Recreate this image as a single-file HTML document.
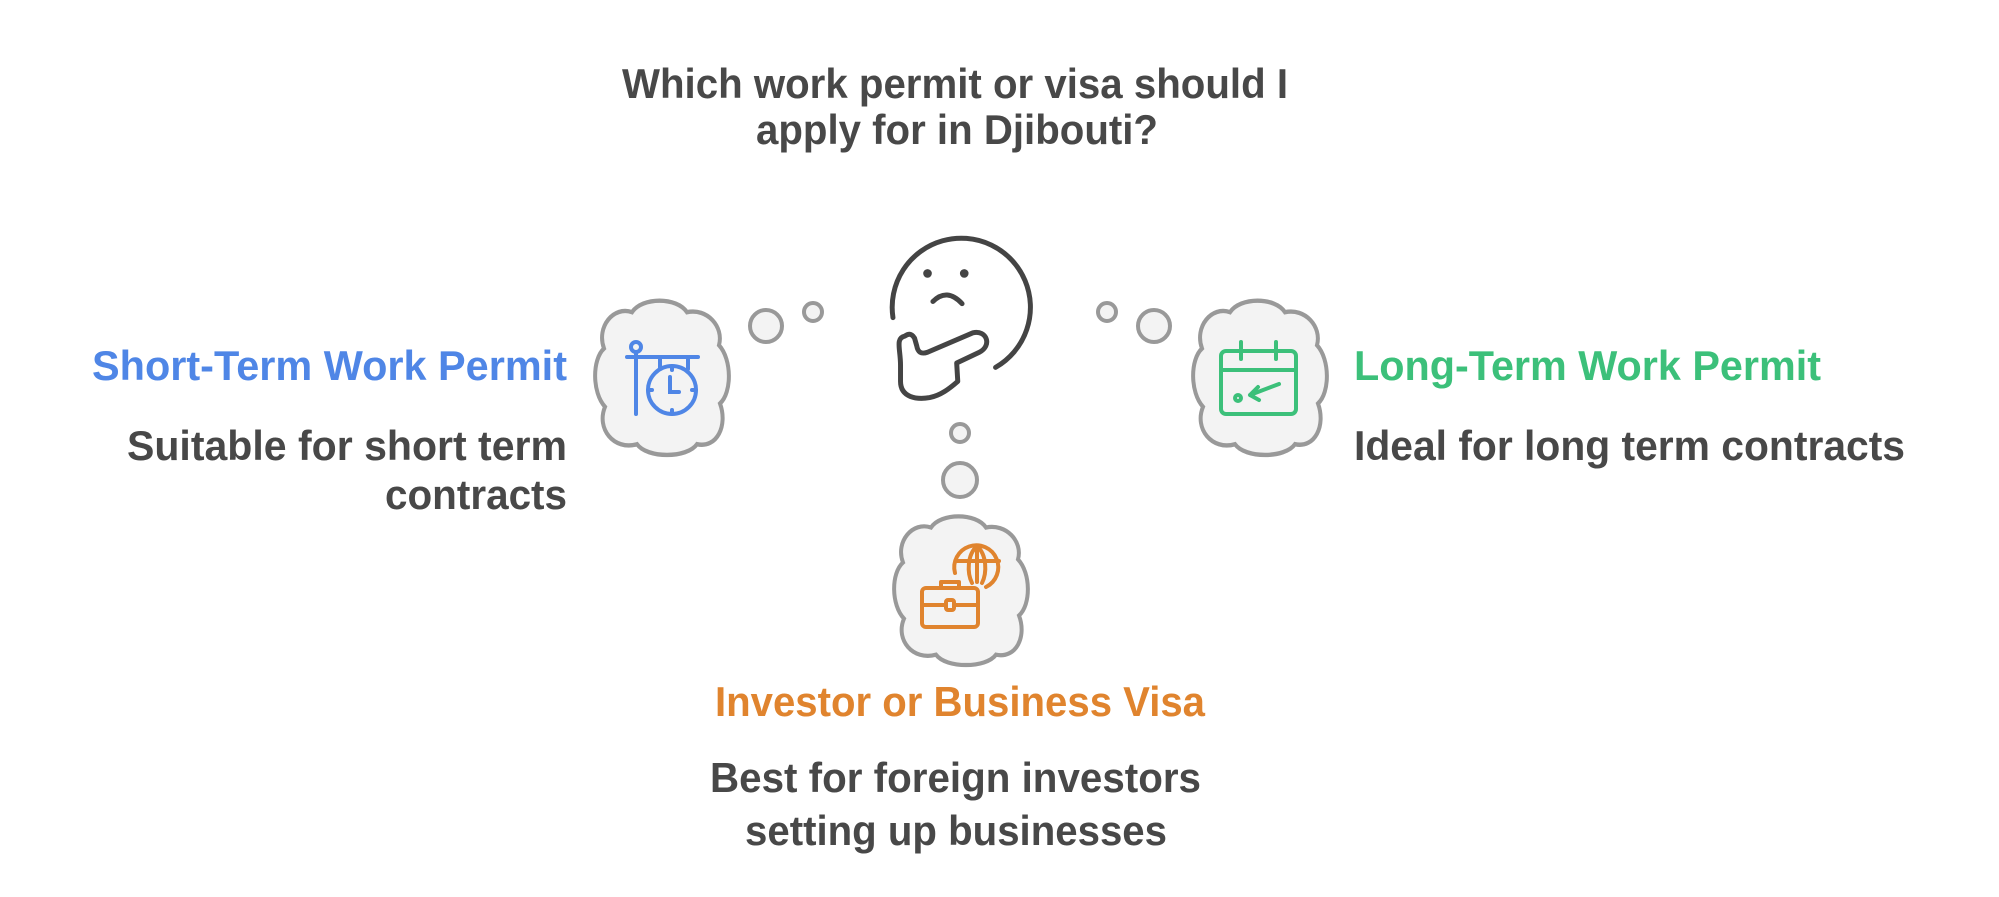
<!DOCTYPE html>
<html><head><meta charset="utf-8"><style>
html,body{margin:0;padding:0;background:#fff;width:1999px;height:897px;overflow:hidden}
svg{display:block}
text{font-family:"Liberation Sans",Arial,sans-serif;font-weight:bold;font-size:42px}
</style></head><body>
<svg width="1999" height="897" viewBox="0 0 1999 897" xmlns="http://www.w3.org/2000/svg">
<defs>
<path id="cloud" d="M-30,-58 C-20,-72 15,-72 25,-58 C45,-62 62,-45 57,-28 C70,-15 70,15 58,25 C66,45 55,66 35,62 C25,75 -15,75 -25,62 C-48,68 -66,48 -57,28 C-70,15 -70,-15 -58,-25 C-66,-45 -48,-64 -30,-58 Z" fill="#f3f3f3" stroke="#999" stroke-width="4"/>
</defs>
<g fill="#484848">
<text x="955" y="98" text-anchor="middle" textLength="666" lengthAdjust="spacingAndGlyphs">Which work permit or visa should I</text>
<text x="957" y="144" text-anchor="middle" textLength="402" lengthAdjust="spacingAndGlyphs">apply for in Djibouti?</text>
<text x="127" y="460" textLength="440" lengthAdjust="spacingAndGlyphs">Suitable for short term</text>
<text x="385" y="509" textLength="182" lengthAdjust="spacingAndGlyphs">contracts</text>
<text x="1354" y="460" textLength="551" lengthAdjust="spacingAndGlyphs">Ideal for long term contracts</text>
<text x="710" y="792" textLength="491" lengthAdjust="spacingAndGlyphs">Best for foreign investors</text>
<text x="745" y="845" textLength="422" lengthAdjust="spacingAndGlyphs">setting up businesses</text>
</g>
<text x="92" y="380" fill="#4f86e6" textLength="475" lengthAdjust="spacingAndGlyphs">Short-Term Work Permit</text>
<text x="1354" y="380" fill="#3cc07a" textLength="467" lengthAdjust="spacingAndGlyphs">Long-Term Work Permit</text>
<text x="715" y="716" fill="#e0842e" textLength="490" lengthAdjust="spacingAndGlyphs">Investor or Business Visa</text>

<!-- bubbles -->
<g fill="#f3f3f3" stroke="#999" stroke-width="4">
<circle cx="766" cy="326" r="16"/><circle cx="813" cy="312" r="9"/>
<circle cx="1154" cy="326" r="16"/><circle cx="1107" cy="312" r="9"/>
<circle cx="960" cy="433" r="9"/><circle cx="960" cy="480" r="17"/>
</g>
<use href="#cloud" transform="translate(662,376) scale(1,1.1)"/>
<use href="#cloud" transform="translate(1260,376) scale(1,1.1)"/>
<use href="#cloud" transform="translate(961,589) scale(1,1.06)"/>

<!-- face -->
<g transform="translate(961,214) scale(1.08) translate(-961,-190)">
<g fill="none" stroke="#444" stroke-width="4.6" stroke-linecap="round" stroke-linejoin="round">
<path d="M898,286 A64,64 0 1 1 993,332"/>
<path d="M935,271 Q948,258 962,273"/>
<path d="M909,303 C900,305 905,315 905,330 L905,345 C905,360 920,362 932,360 C942,358 950,352 958,345 L957,328 L978,318 C990,312 985,297 972,300 L930,318 C924,320 921,318 920,312 L918,305 C915,300 912,301 909,303 Z"/>
</g>
<g fill="#444"><circle cx="930" cy="245" r="4"/><circle cx="964" cy="245" r="4"/></g>
</g>

<!-- left icon -->
<g transform="translate(0,14)" fill="none" stroke="#4f86e6" stroke-width="4" stroke-linecap="round">
<circle cx="636" cy="333" r="5"/>
<line x1="636" y1="338" x2="636" y2="400"/>
<line x1="627" y1="343" x2="698" y2="343"/>
<line x1="660" y1="343" x2="660" y2="355"/><line x1="688" y1="343" x2="688" y2="355"/>
<circle cx="672" cy="376" r="24"/>
<path d="M670,363 V378 H679"/>
<line x1="672" y1="352" x2="672" y2="356"/><line x1="672" y1="396" x2="672" y2="400"/>
<line x1="648" y1="376" x2="652" y2="376"/><line x1="692" y1="376" x2="696" y2="376"/>
</g>
<!-- right icon -->
<g transform="translate(0,14)" fill="none" stroke="#3cc07a" stroke-width="4" stroke-linecap="round" stroke-linejoin="round">
<rect x="1221" y="337" width="75" height="63" rx="5"/>
<line x1="1221" y1="356" x2="1296" y2="356"/>
<line x1="1241" y1="328" x2="1241" y2="345"/><line x1="1276" y1="328" x2="1276" y2="345"/>
<circle cx="1238" cy="384" r="3"/>
<path d="M1279,370 L1250,381 M1258,373 L1250,381 L1259,386"/>
</g>
<!-- bottom icon -->
<g transform="translate(0,5)" fill="none" stroke="#e0842e" stroke-width="4" stroke-linecap="round" stroke-linejoin="round">
<rect x="922" y="583" width="56" height="39" rx="4"/>
<path d="M941,583 V577 H959 V583"/>
<line x1="922" y1="600" x2="978" y2="600"/>
<rect x="946" y="595" width="8" height="10" rx="2" fill="#f3f3f3"/>
<path d="M955,568 A22,22 0 1 1 986,582"/>
<path d="M977,541 V577 M957,556 H999 M977,541 C967,550 967,568 972,578 M977,541 C987,550 987,568 982,578"/>
</g>
</svg>
</body></html>
